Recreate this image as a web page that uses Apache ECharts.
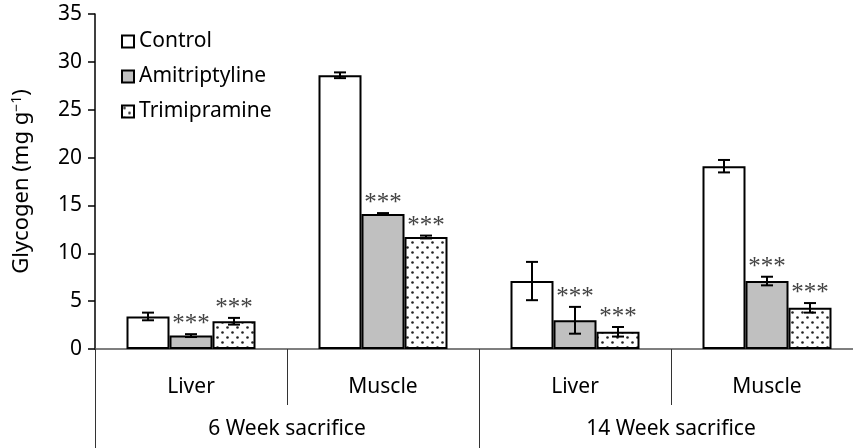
<!DOCTYPE html>
<html>
<head>
<meta charset="utf-8">
<script src="https://cdn.jsdelivr.net/npm/echarts@6/dist/echarts.min.js"></script>
<style>
  html, body { margin: 0; padding: 0; background: #fff; }
  #main { width: 853px; height: 448px; }
</style>
</head>
<body>
<div id="main"></div>
<script>
// values
var tissues = ['Liver', 'Muscle', 'Liver', 'Muscle'];
var sacrifices = ['6 Week sacrifice', '14 Week sacrifice'];
var seriesNames = ['Control', 'Amitriptyline', 'Trimipramine'];

var control = [3.4, 28.6, 7.1, 19.1];
var controlErr = [0.4, 0.3, 2.0, 0.65];
var amitriptyline = [1.4, 14.1, 3.0, 7.1];
var amitriptylineErr = [0.15, 0.1, 1.4, 0.45];
var trimipramine = [2.9, 11.7, 1.8, 4.3];
var trimipramineErr = [0.35, 0.15, 0.5, 0.5];
var amitriptylineSig = ['***', '***', '***', '***'];
var trimipramineSig = ['***', '***', '***', '***'];

var BAR_W = 43;
var FONT = '"Noto Sans", sans-serif';

// dotted fill for Trimipramine
function dotPattern() {
  var c = document.createElement('canvas');
  c.width = 10; c.height = 10;
  var g = c.getContext('2d');
  g.fillStyle = '#fff';
  g.fillRect(0, 0, 10, 10);
  g.fillStyle = '#222';
  g.beginPath(); g.arc(2.5, 2.5, 1.3, 0, Math.PI * 2); g.fill();
  g.beginPath(); g.arc(7.5, 7.5, 1.3, 0, Math.PI * 2); g.fill();
  return c;
}

function errSeries(vals, errs, slot, sig) {
  return {
    type: 'custom',
    silent: true,
    z: 5,
    data: vals.map(function (v, i) { return [i, v, errs[i]]; }),
    encode: { x: 0, y: 1 },
    renderItem: function (params, api) {
      var i = api.value(0), v = api.value(1), e = api.value(2);
      var dx = (slot - 1) * BAR_W;
      var top = api.coord([i, v + e]);
      var bot = api.coord([i, v - e]);
      var x = top[0] + dx;
      var half = 6;
      var ls = { stroke: '#000', lineWidth: 2 };
      var kids = [
        { type: 'line', shape: { x1: x, y1: top[1], x2: x, y2: bot[1] }, style: ls },
        { type: 'line', shape: { x1: x - half, y1: top[1], x2: x + half, y2: top[1] }, style: ls },
        { type: 'line', shape: { x1: x - half, y1: bot[1], x2: x + half, y2: bot[1] }, style: ls }
      ];
      if (sig && sig[params.dataIndex]) {
        kids.push({
          type: 'text',
          style: {
            text: sig[params.dataIndex],
            x: x, y: top[1] + 3,
            align: 'center', verticalAlign: 'bottom',
            fill: '#444',
            font: '25px "Liberation Serif", serif'
          }
        });
      }
      return { type: 'group', children: kids };
    }
  };
}

var chart = echarts.init(document.getElementById('main'));

var option = {
  animation: false,
  textStyle: { fontFamily: FONT },
  grid: { left: 95, right: -10, top: 14, bottom: 99, outerBoundsMode: 'none', containLabel: false },
  legend: {
    orient: 'vertical',
    left: 116,
    top: 26,
    icon: 'rect',
    itemWidth: 12,
    itemHeight: 12,
    itemGap: 14,
    data: seriesNames,
    textStyle: { fontSize: 21, color: '#000', fontFamily: FONT }
  },
  xAxis: [{
    type: 'category',
    data: tissues,
    axisLine: { lineStyle: { color: '#555', width: 1.5 } },
    axisTick: { show: true, interval: 0, length: 56, lineStyle: { color: '#333', width: 1 } },
    axisLabel: { margin: 28, fontSize: 21, color: '#000', fontFamily: FONT }
  }, {
    type: 'category',
    data: sacrifices,
    position: 'bottom',
    axisLine: { show: false },
    axisTick: { show: true, interval: 0, length: 100, lineStyle: { color: '#333', width: 1 } },
    axisLabel: { margin: 70, fontSize: 21, color: '#000', fontFamily: FONT }
  }],
  yAxis: {
    type: 'value',
    min: 0, max: 35, interval: 5,
    name: 'Glycogen (mg g{sup|−1})',
    nameLocation: 'middle',
    nameRotate: 90,
    nameGap: 61,
    nameTextStyle: {
      fontSize: 22, color: '#000', fontFamily: FONT,
      rich: { sup: { fontSize: 14, verticalAlign: 'top', padding: [0, 0, 10, 0], fontFamily: FONT, color: '#000' } }
    },
    splitLine: { show: false },
    axisLine: { show: true, lineStyle: { color: '#000', width: 1.5 } },
    axisTick: { show: true, length: 7, lineStyle: { color: '#000', width: 1.5 } },
    axisLabel: { margin: 13, fontSize: 21, color: '#000', fontFamily: FONT }
  },
  series: [{
    name: 'Control',
    type: 'bar',
    barWidth: BAR_W,
    barGap: '0%',
    data: control,
    itemStyle: { color: '#fff', borderColor: '#000', borderWidth: 2 }
  }, {
    name: 'Amitriptyline',
    type: 'bar',
    barWidth: BAR_W,
    barGap: '0%',
    data: amitriptyline,
    itemStyle: { color: '#c0c0c0', borderColor: '#000', borderWidth: 2 }
  }, {
    name: 'Trimipramine',
    type: 'bar',
    barWidth: BAR_W,
    barGap: '0%',
    data: trimipramine,
    itemStyle: { color: { image: dotPattern(), repeat: 'repeat' }, borderColor: '#000', borderWidth: 2 }
  },
    errSeries(control, controlErr, 0, null),
    errSeries(amitriptyline, amitriptylineErr, 1, amitriptylineSig),
    errSeries(trimipramine, trimipramineErr, 2, trimipramineSig)
  ]
};

chart.setOption(option);
</script>
</body>
</html>
